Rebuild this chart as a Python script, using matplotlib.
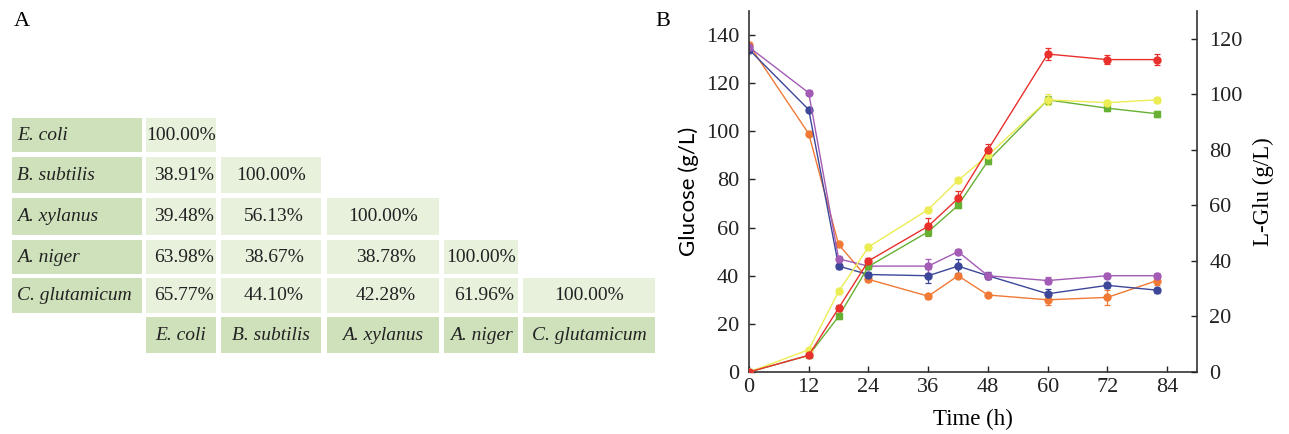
import matplotlib
matplotlib.use("Agg")
import matplotlib.pyplot as plt
from matplotlib.patches import Rectangle
import numpy as np

plt.rcParams['font.family'] = ['Liberation Serif', 'DejaVu Serif']

# ---- panel A: sequence identity table ----
species = ["E. coli", "B. subtilis", "A. xylanus", "A. niger", "C. glutamicum"]
identity = [
    ["100.00%"],
    ["38.91%", "100.00%"],
    ["39.48%", "56.13%", "100.00%"],
    ["63.98%", "38.67%", "38.78%", "100.00%"],
    ["65.77%", "44.10%", "42.28%", "61.96%", "100.00%"],
]

# ---- panel B: fermentation time course ----
time_h = [0, 12, 18, 24, 36, 42, 48, 60, 72, 82]

glc_purple = [135, 116, 47, 44, 44, 50, 40, 38, 40, 40]
glc_blue = [134, 109, 44, 40.5, 40, 44, 40, 32.5, 36, 34]
glc_orange = [136, 99, 53, 38.5, 31.5, 40, 32, 30, 31, 38]
glc_purple_err = [1, 1, 1, 1, 3, 1, 1.5, 1.5, 1, 1]
glc_blue_err = [1, 1, 1, 1, 3, 3, 1.5, 2, 1, 1]
glc_orange_err = [1, 1, 1, 1, 1, 1, 1, 2, 3, 2]

glu_red = [0, 6, 23, 40, 52.5, 62.5, 80, 114.5, 112.5, 112.5]
glu_yellow = [0, 8, 29, 45, 58.5, 69, 78, 98, 97, 98]
glu_green = [0, 6, 20, 38, 50.5, 60, 76, 98, 95, 93]
glu_red_err = [0.5, 0.5, 1, 1, 3, 2.5, 2, 2, 1.5, 2]
glu_yellow_err = [0.5, 0.5, 1, 1, 1, 1, 1, 2, 1, 1]
glu_green_err = [0.5, 0.5, 1, 1, 1.5, 1, 1, 1.5, 1, 1]

fig = plt.figure(figsize=(12.89, 4.34), dpi=100)

# table drawn in pixel units on a blank axes
tab = fig.add_axes([0, 0, 1, 1])
tab.set_xlim(0, 1289)
tab.set_ylim(434, 0)
tab.axis("off")

head_color = "#cfe1bb"
cell_color = "#e8f1dc"
row_y = [(118, 152), (157, 193), (198, 235), (240, 274), (278, 313), (317, 353)]
col_x = [(146, 216), (221, 321), (327, 439), (444, 518), (523, 655)]
head_x = (12, 142)

for i, name in enumerate(species):
    y0, y1 = row_y[i]
    tab.add_patch(Rectangle((head_x[0], y0), head_x[1] - head_x[0], y1 - y0,
                            facecolor=head_color, edgecolor="none"))
    tab.text(head_x[0] + 5, (y0 + y1) / 2, name, style="italic", fontsize=14,
             ha="left", va="center", color="#222222")
    for j, val in enumerate(identity[i]):
        x0, x1 = col_x[j]
        tab.add_patch(Rectangle((x0, y0), x1 - x0, y1 - y0,
                                facecolor=cell_color, edgecolor="none"))
        shift = 3 if len(val) < 7 else 0
        tab.text((x0 + x1) / 2 + shift, (y0 + y1) / 2, val, fontsize=14,
                 ha="center", va="center", color="#222222")

y0, y1 = row_y[-1]
for j, name in enumerate(species):
    x0, x1 = col_x[j]
    tab.add_patch(Rectangle((x0, y0), x1 - x0, y1 - y0,
                            facecolor=head_color, edgecolor="none"))
    tab.text((x0 + x1) / 2, (y0 + y1) / 2, name, style="italic", fontsize=14,
             ha="center", va="center", color="#222222")

tab.text(14, 22, "A", fontsize=16, ha="left", va="center")
tab.text(655, 22, "B", fontsize=16, ha="left", va="center")

# time course with two y axes
ax = fig.add_axes([749 / 1289, 1 - 372 / 434, 448 / 1289, 361 / 434])
ax2 = ax.twinx()

style = dict(lw=1.0, markersize=5, capsize=2.5, elinewidth=0.9, capthick=0.9)
ax.errorbar(time_h, glc_orange, yerr=glc_orange_err, color="#f07a35", marker="o", **style)
ax.errorbar(time_h, glc_blue, yerr=glc_blue_err, color="#3d4799", marker="o", **style)
ax.errorbar(time_h, glc_purple, yerr=glc_purple_err, color="#a35bb5", marker="o", **style)
ax2.errorbar(time_h, glu_green, yerr=glu_green_err, color="#66b034", marker="s", **style)
ax2.errorbar(time_h, glu_yellow, yerr=glu_yellow_err, color="#ecec55", marker="o", **style)
ax2.errorbar(time_h, glu_red, yerr=glu_red_err, color="#e8302c", marker="o", **style)

ax.set_xlim(0, 90)
ax.set_ylim(0, 150)
ax2.set_ylim(0, 130)
ax.set_xticks(np.arange(0, 85, 12))
ax.set_yticks(np.arange(0, 141, 20))
ax2.set_yticks(np.arange(0, 121, 20))

for a in (ax, ax2):
    a.spines["top"].set_visible(False)
    for s in a.spines.values():
        s.set_linewidth(1.2)
        s.set_color("#333333")
    a.tick_params(direction="in", length=4, width=1, labelsize=16, colors="#222222")
ax.spines["right"].set_visible(False)
ax2.spines["left"].set_visible(False)
ax2.spines["bottom"].set_visible(False)
ax.tick_params(axis="x", pad=4)
ax.tick_params(axis="y", pad=7)
ax2.tick_params(axis="y", pad=9)

ax.set_xlabel("Time (h)", fontsize=16.5, labelpad=9)
ax.set_ylabel("Glucose (g/L)", fontsize=16, family=["Lato", "DejaVu Sans"], labelpad=5)
ax2.set_ylabel("L-Glu (g/L)", fontsize=16.5, labelpad=7)

fig.savefig("out.png", dpi=100)
